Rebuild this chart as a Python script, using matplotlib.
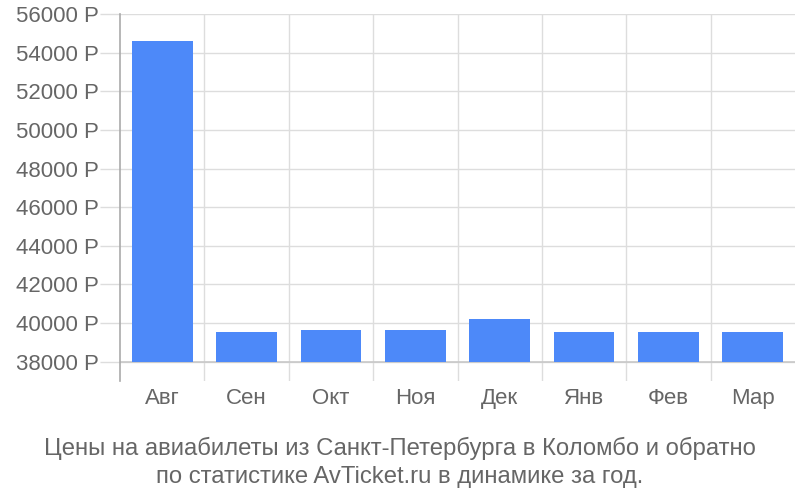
import matplotlib
matplotlib.use("Agg")
import matplotlib.pyplot as plt
from matplotlib import font_manager

# --- data
months = ["Авг", "Сен", "Окт", "Ноя", "Дек", "Янв", "Фев", "Мар"]
prices = [54600, 39550, 39640, 39640, 40210, 39550, 39550, 39550]
yticks = list(range(38000, 56001, 2000))
title = ("Цены на авиабилеты из Санкт-Петербурга в Коломбо и обратно\n"
         "по статистике AvTicket.ru в динамике за год.")

names = {f.name for f in font_manager.fontManager.ttflist}
base = "Liberation Sans" if "Liberation Sans" in names else "DejaVu Sans"
narrow = "Liberation Sans Narrow" if "Liberation Sans Narrow" in names else base
plt.rcParams["font.family"] = [base, "DejaVu Sans"]

txt = "#666666"
grid = "#dddddd"

fig = plt.figure(figsize=(8, 5), dpi=100)
ax = fig.add_axes([0.15, 0.238, 0.84375, 0.734])

base_val = 38000
x = range(len(months))
ax.bar(x, [p - base_val for p in prices], bottom=base_val, width=0.72,
       color="#4d89f9", zorder=3)

ax.set_xlim(-0.5, len(months) - 0.5)
ax.set_ylim(37000, 56000)

ax.set_yticks(yticks)
ax.set_yticklabels([f"{v} Р" for v in yticks])
ax.set_xticks(x)
ax.set_xticklabels(months)

# vertical grid lines between categories
for i in range(1, len(months)):
    ax.axvline(i - 0.5, color=grid, lw=1, zorder=1)
ax.grid(axis="y", color=grid, lw=1, zorder=1)
ax.axhline(base_val, color="#c8c8c8", lw=1.2, zorder=2)

for s in ["top", "right", "bottom"]:
    ax.spines[s].set_visible(False)
ax.spines["left"].set_color("#aaaaaa")
ax.spines["left"].set_linewidth(1.2)

ax.tick_params(axis="y", length=14.4, color=grid, width=1, pad=0.5,
               labelsize=16, labelcolor=txt)
ax.tick_params(axis="x", length=0, pad=5, labelsize=16, labelcolor=txt)

fig.text(0.5, 0.076, title, ha="center", va="center", fontsize=17.2,
         color=txt, family=[narrow, "DejaVu Sans"], linespacing=1.36)

fig.savefig("out.png", dpi=100)
